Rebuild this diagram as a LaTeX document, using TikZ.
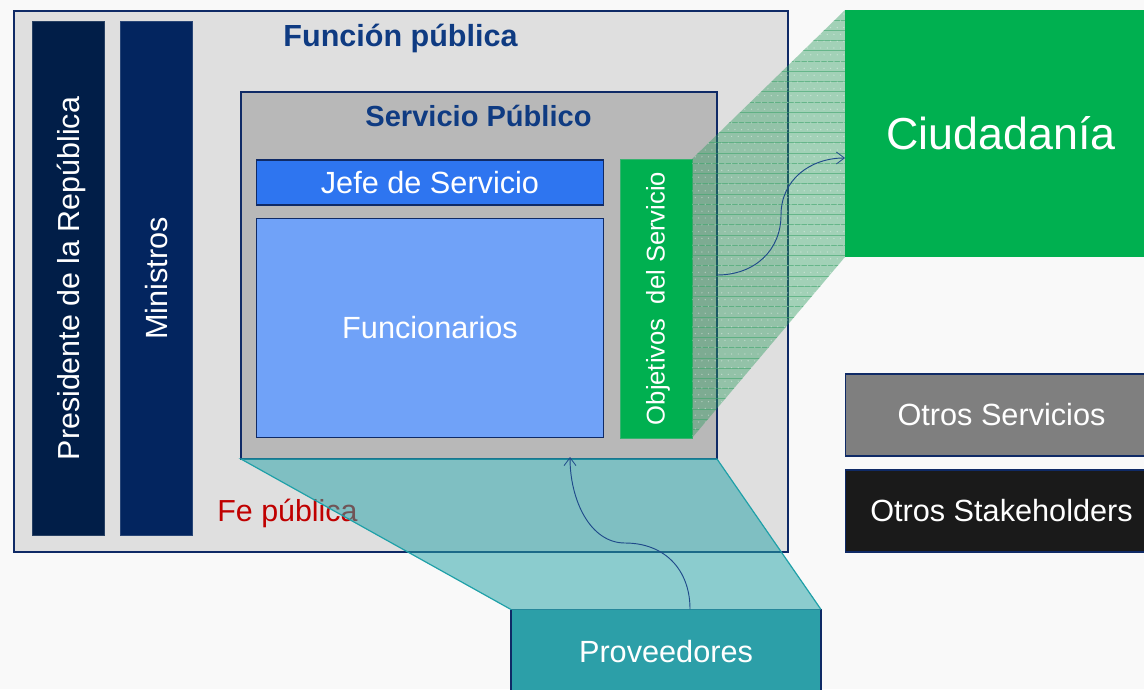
\documentclass[tikz,border=0pt]{standalone}
\usepackage{fontspec}
\usepackage{graphicx}
\setmainfont{Liberation Sans}
\usetikzlibrary{arrows.meta}
\definecolor{bgc}{HTML}{F9F9F9}
\definecolor{navy}{HTML}{0F2A66}
\definecolor{greyA}{HTML}{DFDFDF}
\definecolor{greyB}{HTML}{B8B8B8}
\definecolor{presc}{HTML}{011E48}
\definecolor{minc}{HTML}{03255F}
\definecolor{jefec}{HTML}{2E75F0}
\definecolor{funcc}{HTML}{70A2F8}
\definecolor{greenc}{HTML}{00B050}
\definecolor{bridgec}{HTML}{2C9A5E}
\definecolor{hatchc}{HTML}{3FA56C}
\definecolor{tealc}{HTML}{27A3A8}
\definecolor{provc}{HTML}{2C9FA8}
\definecolor{titlec}{HTML}{0F3B82}
\definecolor{otherc}{HTML}{7F7F7F}
\definecolor{blackc}{HTML}{1A1A1A}
\definecolor{fec}{HTML}{C00000}
\definecolor{tealedge}{HTML}{1FA0A8}
\definecolor{curvec}{HTML}{1F4A8A}
\tikzset{
 pxbox/.style={draw=navy,line width=0.85pt,inner sep=0pt,outer sep=0pt,text=white,align=center,anchor=center},
 flatbox/.style={pxbox,line width=0.7pt},
 curveline/.style={draw=curvec,line width=0.7pt,-{Straight Barb[length=6pt,width=9pt,line width=0.6pt]}},
}
\begin{document}
\begin{tikzpicture}[x=0.75pt,y=-0.75pt]
\useasboundingbox (0,0) rectangle (1144,689);
\clip (0,0) rectangle (1144,689);
\fill[bgc] (0,0) rectangle (1144,689);
\node[pxbox,fill=greyA,minimum width=774*0.75pt,minimum height=541*0.75pt] (fun) at (401,281.5) {};
\node[font=\bfseries\fontsize{22.9}{26}\selectfont,text=titlec] (funt) at (400.5,38.5) {Función pública};
\node[flatbox,draw=presc!85!white,fill=presc,minimum width=72*0.75pt,minimum height=514*0.75pt,font=\fontsize{22.8}{26}\selectfont] (pres) at (68.5,278.5) {\hspace*{4.5pt}\rotatebox{90}{Presidente de la República}};
\node[flatbox,draw=minc!85!white,fill=minc,minimum width=72*0.75pt,minimum height=514*0.75pt,font=\fontsize{23}{26}\selectfont] (minis) at (156.5,278.5) {\hspace*{0.5pt}\rotatebox{90}{Ministros}};
\node[pxbox,fill=greyB,minimum width=476*0.75pt,minimum height=367*0.75pt] (serv) at (479,275.5) {};
\node[font=\bfseries\fontsize{21.8}{25}\selectfont,text=titlec] (servt) at (478.5,116) {Servicio Público};
\node[pxbox,fill=jefec,minimum width=347.5*0.75pt,minimum height=45*0.75pt,font=\fontsize{23}{26}\selectfont] (jefe) at (430,182.5) {Jefe de Servicio};
\node[pxbox,fill=funcc,minimum width=347.5*0.75pt,minimum height=219.5*0.75pt,font=\fontsize{23}{26}\selectfont] (func) at (430,328) {Funcionarios};
\node[draw=greenc!70!greyB,fill=greenc,line width=0.7pt,inner sep=0pt,outer sep=0pt,text=white,minimum width=72*0.75pt,minimum height=279*0.75pt,font=\fontsize{19.2}{22}\selectfont] (obj) at (656,298.5) {\hspace*{3pt}\rotatebox{90}{Objetivos\ \ del Servicio}};
\node[pxbox,draw=none,fill=greenc,minimum width=312*0.75pt,minimum height=247*0.75pt,font=\fontsize{33.6}{40}\selectfont] (ciu) at (1001,133.5) {Ciudadanía};
\node[pxbox,fill=otherc,minimum width=312*0.75pt,minimum height=82*0.75pt,font=\fontsize{23}{26}\selectfont] (ots) at (1001.5,415) {Otros Servicios};
\node[pxbox,fill=blackc,minimum width=312*0.75pt,minimum height=82*0.75pt,font=\fontsize{23}{26}\selectfont] (ost) at (1001.5,511) {Otros Stakeholders};
\node[font=\fontsize{22.8}{26}\selectfont,text=fec] (fe) at (287.5,513) {Fe pública};
\node[pxbox,fill=provc,minimum width=310*0.75pt,minimum height=84*0.75pt,font=\fontsize{23}{27}\selectfont] (prov) at (666,651.5) {Proveedores};
% bridges
\fill[bridgec,opacity=0.42] (obj.north east) -- (ciu.north west) -- (ciu.south west) -- (obj.south east) -- cycle;
\begin{scope}
\clip (obj.north east) -- (ciu.north west) -- (ciu.south west) -- (obj.south east) -- cycle;
\foreach \k in {0,...,41} \draw[hatchc,opacity=0.6,line width=0.6pt] (690,{20+10.24*\k}) -- (846,{20+10.24*\k});
\foreach \i in {0,...,23} \foreach \j in {0,...,62} \fill[white,opacity=0.4] ({692+6.6*\i+3.3*mod(\j,2)},{14+6.8*\j}) circle (0.7);
\end{scope}
\fill[tealc,opacity=0.52] (serv.south west) -- (serv.south east) -- (prov.north east) -- (prov.north west) -- cycle;
\draw[tealedge,line width=0.9pt] (prov.north west) -- (serv.south west) -- (serv.south east) -- (prov.north east);
\draw[provc!80!navy,line width=0.9pt] (prov.north west) -- (prov.north east);
% connectors
\coordinate (a1) at (serv.east |- 0,275);
\coordinate (a2) at (ciu.west |- 0,158);
\coordinate (b1) at (690,609);
\coordinate (b2) at (570,457);
\draw[curveline] (a1) .. controls (755,275) and (781,250) .. (781,215) .. controls (781,180) and (810,158) .. (a2);
\draw[curveline] (b1) .. controls (690,570) and (665,543) .. (625,543) .. controls (590,543) and (570,500) .. (b2);
\end{tikzpicture}
\end{document}
